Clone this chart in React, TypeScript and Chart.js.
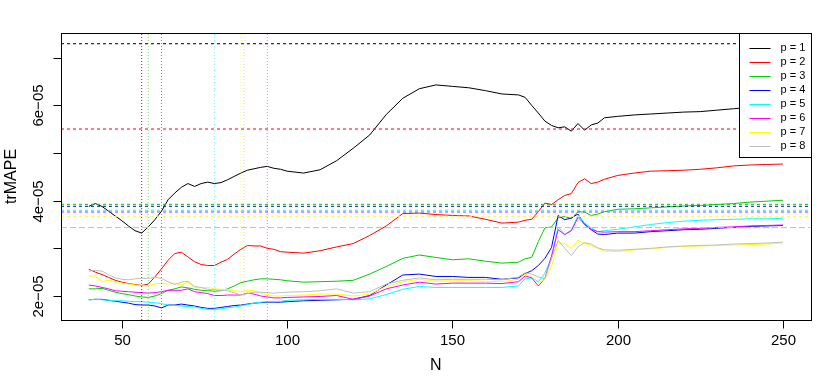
import React, { useEffect, useRef } from "react";
import { Chart, registerables } from "chart.js";
Chart.register(...registerables);

// values of trMAPE are given in units of 1e-5
const SCALE = 1e-5;

const N = [
  40, 42, 44, 46, 48, 50, 52, 54, 56, 58, 60, 62, 64, 66, 68, 70, 72, 74, 76, 78, 80, 82, 84, 86, 88, 90, 92, 94, 96, 98, 100,
  105, 110, 115, 120, 125, 130, 135, 140, 145, 150, 155, 160, 165, 170,
  172, 174, 176, 178, 180, 182, 184, 186, 188, 190, 192, 194, 196,
  200, 205, 210, 215, 220, 225, 230, 235, 240, 245, 250,
];

const p1 = [
  3.88, 3.94, 3.88, 3.78, 3.68, 3.58, 3.47, 3.37, 3.32, 3.45, 3.60, 3.78, 4.02, 4.16, 4.28, 4.36, 4.30, 4.36, 4.39, 4.36, 4.38, 4.44, 4.51, 4.58, 4.64, 4.67, 4.70, 4.72, 4.68, 4.66, 4.62,
  4.58, 4.65, 4.84, 5.10, 5.38, 5.81, 6.15, 6.35, 6.43, 6.40, 6.37, 6.31, 6.24, 6.22,
  6.17, 6.00, 5.84, 5.67, 5.58, 5.53, 5.55, 5.46, 5.62, 5.48, 5.59, 5.63, 5.74,
  5.77, 5.80, 5.82, 5.84, 5.86, 5.87, 5.90, 5.93, 5.96, 5.99, 6.02,
];
const p2 = [
  2.56, 2.50, 2.45, 2.39, 2.33, 2.29, 2.26, 2.24, 2.22, 2.25, 2.40, 2.57, 2.75, 2.89, 2.92, 2.82, 2.72, 2.66, 2.64, 2.64, 2.71, 2.77, 2.88, 2.98, 3.06, 3.05, 3.05, 3.00, 2.98, 2.93, 2.92,
  2.90, 2.95, 3.03, 3.10, 3.27, 3.47, 3.73, 3.74, 3.71, 3.69, 3.68, 3.61, 3.53, 3.55,
  3.59, 3.61, 3.77, 3.95, 3.92, 4.02, 4.11, 4.15, 4.38, 4.46, 4.36, 4.39, 4.45,
  4.53, 4.58, 4.62, 4.63, 4.64, 4.66, 4.69, 4.73, 4.75, 4.76, 4.77,
];
const p3 = [
  2.15, 2.15, 2.16, 2.12, 2.08, 2.05, 2.03, 2.00, 1.98, 1.97, 2.00, 2.05, 2.12, 2.15, 2.19, 2.17, 2.14, 2.12, 2.11, 2.10, 2.11, 2.15, 2.21, 2.28, 2.31, 2.34, 2.36, 2.36, 2.35, 2.34, 2.32,
  2.29, 2.30, 2.31, 2.33, 2.46, 2.62, 2.79, 2.86, 2.81, 2.76, 2.78, 2.73, 2.69, 2.71,
  2.78, 2.81, 3.14, 3.43, 3.45, 3.64, 3.67, 3.62, 3.77, 3.76, 3.69, 3.72, 3.77,
  3.82, 3.83, 3.85, 3.87, 3.89, 3.90, 3.92, 3.94, 3.97, 3.99, 4.01,
];
const p4 = [
  1.92, 1.93, 1.93, 1.91, 1.89, 1.87, 1.85, 1.82, 1.81, 1.81, 1.79, 1.75, 1.81, 1.81, 1.83, 1.81, 1.79, 1.76, 1.74, 1.74, 1.76, 1.78, 1.80, 1.81, 1.83, 1.85, 1.86, 1.87, 1.87, 1.87, 1.88,
  1.90, 1.91, 1.92, 1.93, 2.01, 2.23, 2.44, 2.46, 2.41, 2.41, 2.39, 2.39, 2.35, 2.38,
  2.47, 2.53, 2.64, 2.79, 3.02, 3.69, 3.60, 3.64, 3.72, 3.50, 3.39, 3.30, 3.29,
  3.32, 3.32, 3.35, 3.37, 3.39, 3.40, 3.42, 3.44, 3.46, 3.47, 3.48,
];
const p5 = [
  1.92, 1.93, 1.92, 1.91, 1.90, 1.90, 1.89, 1.88, 1.88, 1.87, 1.86, 1.84, 1.81, 1.80, 1.79, 1.78, 1.77, 1.74, 1.72, 1.72, 1.73, 1.75, 1.77, 1.79, 1.82, 1.85, 1.87, 1.88, 1.88, 1.89, 1.91,
  1.92, 1.93, 1.93, 1.92, 1.94, 2.03, 2.14, 2.20, 2.18, 2.18, 2.18, 2.18, 2.18, 2.21,
  2.36, 2.38, 2.30, 2.48, 2.81, 3.45, 3.29, 3.39, 3.69, 3.53, 3.43, 3.35, 3.37,
  3.40, 3.45, 3.50, 3.54, 3.57, 3.59, 3.60, 3.61, 3.62, 3.62, 3.63,
];
const p6 = [
  2.23, 2.21, 2.18, 2.15, 2.11, 2.10, 2.09, 2.08, 2.07, 2.06, 2.07, 2.09, 2.12, 2.12, 2.12, 2.15, 2.09, 2.07, 2.05, 2.01, 2.01, 2.02, 2.02, 2.02, 2.06, 2.04, 2.00, 1.98, 1.96, 1.96, 1.97,
  1.98, 1.99, 2.01, 1.93, 2.00, 2.15, 2.23, 2.29, 2.25, 2.27, 2.27, 2.27, 2.26, 2.30,
  2.42, 2.38, 2.21, 2.37, 2.84, 3.39, 3.29, 3.37, 3.65, 3.51, 3.40, 3.35, 3.34,
  3.35, 3.35, 3.37, 3.39, 3.41, 3.42, 3.44, 3.45, 3.47, 3.48, 3.49,
];
const p7 = [
  2.42, 2.42, 2.30, 2.33, 2.30, 2.27, 2.25, 2.23, 2.21, 2.22, 2.25, 2.27, 2.25, 2.27, 2.23, 2.29, 2.18, 2.17, 2.18, 2.15, 2.14, 2.13, 2.11, 2.09, 2.12, 2.11, 2.06, 2.03, 2.00, 2.00, 2.01,
  2.02, 2.04, 2.04, 2.00, 2.04, 2.20, 2.30, 2.35, 2.31, 2.32, 2.32, 2.31, 2.30, 2.35,
  2.46, 2.41, 2.27, 2.35, 2.63, 3.12, 3.10, 3.00, 3.17, 3.10, 3.06, 3.00, 2.94,
  2.93, 2.97, 2.99, 3.02, 3.04, 3.05, 3.06, 3.07, 3.08, 3.09, 3.11,
];
const p8 = [
  2.52, 2.54, 2.52, 2.45, 2.38, 2.35, 2.34, 2.36, 2.37, 2.37, 2.39, 2.37, 2.30, 2.24, 2.29, 2.31, 2.20, 2.18, 2.14, 2.13, 2.12, 2.11, 2.07, 2.02, 2.05, 2.08, 2.08, 2.07, 2.06, 2.07, 2.08,
  2.09, 2.11, 2.15, 2.06, 2.09, 2.25, 2.33, 2.38, 2.34, 2.35, 2.35, 2.35, 2.34, 2.40,
  2.49, 2.46, 2.40, 2.36, 2.78, 3.17, 3.00, 2.85, 3.03, 3.12, 3.09, 3.01, 2.97,
  2.96, 2.98, 3.00, 3.03, 3.05, 3.06, 3.07, 3.09, 3.10, 3.11, 3.13,
];

const series = [p1, p2, p3, p4, p5, p6, p7, p8];
const seriesLabels = ["p = 1", "p = 2", "p = 3", "p = 4", "p = 5", "p = 6", "p = 7", "p = 8"];
const seriesColors = ["#000000", "#FF0000", "#00CD00", "#0000FF", "#00FFFF", "#FF00FF", "#FFFF00", "#BEBEBE"];

// horizontal reference levels (×1e-5) and vertical reference positions (N), one per p
const refLevels = [7.295, 5.505, 3.924, 3.883, 3.80, 3.763, 3.673, 3.435];
const refN = [56, 56, 58, 62, 78, 94, 86, 87];

const xTicks = [50, 100, 150, 200, 250];
const xTickLabels = ["50", "100", "150", "200", "250"];
const yTicks = [2, 3, 4, 5, 6, 7];
const yTickLabels = ["2e\u221205", "", "4e\u221205", "", "6e\u221205", ""];

const X_MIN = 31.6;
const X_MAX = 258.4;
const Y_MIN = 1.496;
const Y_MAX = 7.52;

const FONT = '"Liberation Sans", Arial, Helvetica, sans-serif';

function rgba(hex: string, a: number) {
  const r = parseInt(hex.slice(1, 3), 16);
  const g = parseInt(hex.slice(3, 5), 16);
  const b = parseInt(hex.slice(5, 7), 16);
  return `rgba(${r},${g},${b},${a})`;
}

const rAxesPlugin = {
  id: "rAxes",
  afterDraw(chart: any) {
    const ctx = chart.ctx;
    const { left, right, top, bottom } = chart.chartArea;
    const xs = chart.scales.x;
    const ys = chart.scales.y;
    ctx.save();
    ctx.strokeStyle = "#000";
    ctx.fillStyle = "#000";
    ctx.lineWidth = 1;
    ctx.setLineDash([]);
    // box
    ctx.strokeRect(Math.round(left) + 0.5, Math.round(top) + 0.5, Math.round(right - left), Math.round(bottom - top));
    const by = Math.round(bottom) + 0.5;
    const lx = Math.round(left) + 0.5;
    // x axis
    ctx.font = `15px ${FONT}`;
    ctx.textAlign = "center";
    ctx.textBaseline = "middle";
    xTicks.forEach((t, i) => {
      const px = Math.round(xs.getPixelForValue(t)) + 0.5;
      ctx.beginPath();
      ctx.moveTo(px, by);
      ctx.lineTo(px, by + 8);
      ctx.stroke();
      ctx.fillText(xTickLabels[i], px, bottom + 21);
    });
    // y axis
    yTicks.forEach((t, i) => {
      const py = Math.round(ys.getPixelForValue(t * SCALE)) + 0.5;
      ctx.beginPath();
      ctx.moveTo(lx, py);
      ctx.lineTo(lx - 8, py);
      ctx.stroke();
      if (yTickLabels[i]) {
        ctx.save();
        ctx.translate(left - 22, py);
        ctx.rotate(-Math.PI / 2);
        ctx.fillText(yTickLabels[i], 0, 0);
        ctx.restore();
      }
    });
    // titles
    ctx.font = `16px ${FONT}`;
    ctx.fillText("N", (left + right) / 2, bottom + 46);
    ctx.save();
    ctx.translate(left - 49, (top + bottom) / 2);
    ctx.rotate(-Math.PI / 2);
    ctx.fillText("trMAPE", 0, 0);
    ctx.restore();

    // legend
    const lw = 72;
    const lh = 124;
    const lgx = Math.round(right - lw) + 0.5;
    const lgy = Math.round(top) + 0.5;
    ctx.fillStyle = "#fff";
    ctx.fillRect(lgx, lgy, lw, lh);
    ctx.strokeStyle = "#000";
    ctx.strokeRect(lgx, lgy, lw, lh);
    ctx.font = `11px ${FONT}`;
    ctx.textAlign = "left";
    seriesLabels.forEach((lab, i) => {
      const yy = lgy + 14 + i * 14;
      ctx.strokeStyle = seriesColors[i];
      ctx.beginPath();
      ctx.moveTo(lgx + 10, Math.round(yy) + 0.5);
      ctx.lineTo(lgx + 31, Math.round(yy) + 0.5);
      ctx.stroke();
      ctx.fillStyle = "#000";
      ctx.fillText(lab, lgx + 41, yy + 0.5);
    });
    ctx.restore();
  },
};

export default function App() {
  const ref = useRef<HTMLCanvasElement | null>(null);
  useEffect(() => {
    if (!ref.current) return;
    const datasets: any[] = [];
    series.forEach((vals, i) => {
      datasets.push({
        label: seriesLabels[i],
        data: N.map((n, j) => ({ x: n, y: vals[j] * SCALE })),
        borderColor: seriesColors[i],
        borderWidth: 1,
        pointRadius: 0,
        tension: 0,
        fill: false,
        order: 20 - i,
      });
    });
    refLevels.forEach((lv, i) => {
      datasets.push({
        label: "h" + (i + 1),
        data: [
          { x: X_MIN, y: lv * SCALE },
          { x: X_MAX, y: lv * SCALE },
        ],
        borderColor: seriesColors[i],
        borderWidth: 1,
        borderDash: i === 7 ? [6, 3] : [3, 3],
        pointRadius: 0,
        fill: false,
        order: 5,
      });
    });
    refN.forEach((n, i) => {
      datasets.push({
        label: "v" + (i + 1),
        data: [
          { x: n, y: Y_MIN * SCALE },
          { x: n, y: Y_MAX * SCALE },
        ],
        borderColor: rgba(seriesColors[i], i < 2 ? 0.5 : 0.55),
        borderWidth: 1,
        borderDash: [1, 2],
        pointRadius: 0,
        fill: false,
        order: 4,
      });
    });
    const chart = new Chart(ref.current, {
      type: "line",
      data: { datasets },
      options: {
        responsive: false,
        maintainAspectRatio: false,
        animation: false,
        devicePixelRatio: 1,
        layout: { padding: { left: 61, top: 33, right: 19.3, bottom: 61 } },
        scales: {
          x: { type: "linear", min: X_MIN, max: X_MAX, display: false },
          y: { type: "linear", min: Y_MIN * SCALE, max: Y_MAX * SCALE, display: false },
        },
        plugins: { legend: { display: false }, tooltip: { enabled: false } },
        events: [],
      },
      plugins: [rAxesPlugin],
    });
    return () => chart.destroy();
  }, []);
  return (
    <div style={{ position: "fixed", left: 0, top: 0, width: 830, height: 381, background: "#fff" }}>
      <canvas ref={ref} width={830} height={381} style={{ display: "block", width: 830, height: 381 }} />
    </div>
  );
}
